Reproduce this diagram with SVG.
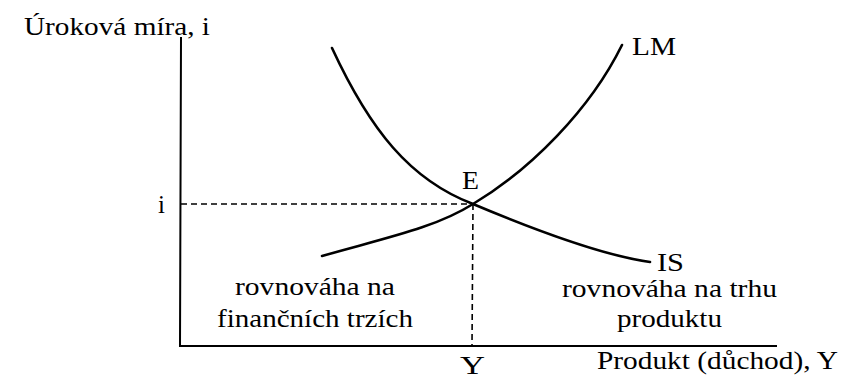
<svg xmlns="http://www.w3.org/2000/svg" width="841" height="378" viewBox="0 0 841 378">
<style>
text{font-family:"Liberation Serif","Times New Roman",serif;fill:#000;font-size:25px}
.axis{stroke:#000;stroke-width:2;fill:none}
.curve{stroke:#000;stroke-width:2.6;fill:none;stroke-linecap:round}
.dash{stroke:#000;stroke-width:1.6;fill:none;stroke-dasharray:6 4}
</style>
<rect width="841" height="378" fill="#fff"/>
<g id="axes">
<path class="axis" d="M181,37 L180,346 L777,346"/>
</g>
<g id="connectors">
<path class="dash" d="M181,204 L473,204"/>
<path class="dash" d="M473,204 L472,346"/>
<path id="IS-curve" class="curve" d="M332,48 C370,130 410,180 473,204 C530,228 600,255 650,262"/>
<path id="LM-curve" class="curve" d="M322,256 C385,238 435,228 473,204 C530,170 590,110 622,45"/>
</g>
<g id="labels">
<text id="ylabel" x="24" y="35" textLength="186" lengthAdjust="spacingAndGlyphs">Úroková míra, i</text>
<text id="LM" x="632" y="55" textLength="44" lengthAdjust="spacingAndGlyphs">LM</text>
<text id="E" x="462" y="189" textLength="17" lengthAdjust="spacingAndGlyphs">E</text>
<text id="i" x="158" y="213">i</text>
<text id="IS" x="657" y="271" textLength="27" lengthAdjust="spacingAndGlyphs">IS</text>
<text x="235" y="295" textLength="160" lengthAdjust="spacingAndGlyphs">rovnováha na</text>
<text x="217" y="327" textLength="196" lengthAdjust="spacingAndGlyphs">finančních trzích</text>
<text x="562" y="297" textLength="215" lengthAdjust="spacingAndGlyphs">rovnováha na trhu</text>
<text x="617" y="327" textLength="105" lengthAdjust="spacingAndGlyphs">produktu</text>
<text id="Y" x="460" y="374" textLength="25" lengthAdjust="spacingAndGlyphs">Y</text>
<text id="xlabel" x="597" y="369" textLength="241" lengthAdjust="spacingAndGlyphs">Produkt (důchod), Y</text>
</g>
</svg>
